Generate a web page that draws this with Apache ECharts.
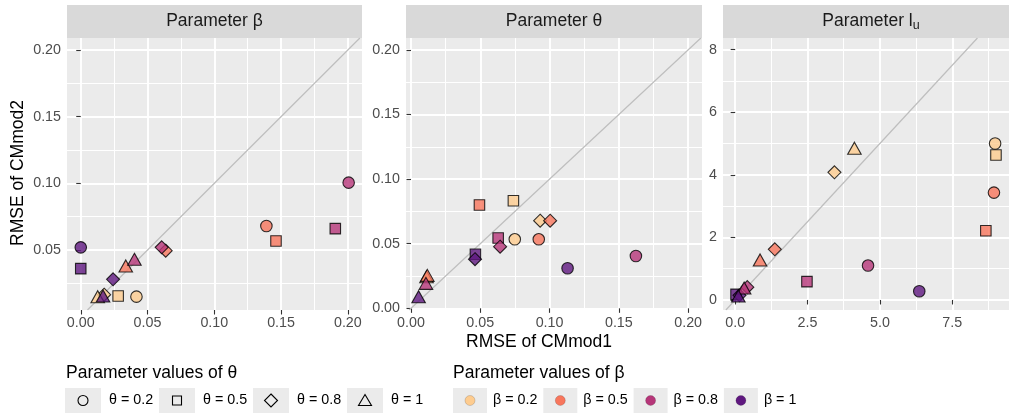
<!DOCTYPE html>
<html>
<head>
<meta charset="utf-8">
<script src="https://cdn.jsdelivr.net/npm/echarts@6/dist/echarts.min.js"></script>
<style>
  html, body { margin: 0; padding: 0; background: #ffffff; }
  #chart { width: 1009px; height: 414px; }
</style>
</head>
<body>
<div id="chart"></div>
<script>
// ---- data -------------------------------------------------------------
const thetaLevels = ['θ = 0.2', 'θ = 0.5', 'θ = 0.8', 'θ = 1'];
const betaLevels  = ['β = 0.2', 'β = 0.5', 'β = 0.8', 'β = 1'];

// Each array holds one θ level; entries run over β = 0.2, 0.5, 0.8, 1.
// Panel "Parameter β"
const betaPanelX = [
  [0.0417, 0.1390, 0.2006, 0.0000],
  [0.0280, 0.1462, 0.1906, 0.0000],
  [0.0175, 0.0636, 0.0606, 0.0242],
  [0.0127, 0.0337, 0.0402, 0.0167]
];
const betaPanelY = [
  [0.0150, 0.0680, 0.1005, 0.0520],
  [0.0155, 0.0568, 0.0660, 0.0360],
  [0.0165, 0.0495, 0.0520, 0.0280],
  [0.0150, 0.0380, 0.0430, 0.0155]
];
// Panel "Parameter θ"
const thetaPanelX = [
  [0.0749, 0.0922, 0.1623, 0.1130],
  [0.0739, 0.0494, 0.0629, 0.0465],
  [0.0932, 0.1004, 0.0643, 0.0462],
  [0.0112, 0.0118, 0.0108, 0.0055]
];
const thetaPanelY = [
  [0.0534, 0.0534, 0.0405, 0.0310],
  [0.0833, 0.0800, 0.0544, 0.0418],
  [0.0678, 0.0678, 0.0477, 0.0380],
  [0.0245, 0.0255, 0.0193, 0.0090]
];
// Panel "Parameter l_u"
const luPanelX = [
  [8.98, 8.94, 4.59, 6.36],
  [9.01, 8.66, 2.48, 0.03],
  [3.43, 1.37, 0.42, 0.15],
  [4.12, 0.86, 0.31, 0.11]
];
const luPanelY = [
  [5.00, 3.43, 1.10, 0.28],
  [4.63, 2.21, 0.585, 0.18],
  [4.08, 1.62, 0.41, 0.15],
  [4.85, 1.28, 0.38, 0.13]
];

// axis tick labels
const smallTicks = [0.00, 0.05, 0.10, 0.15, 0.20];
const smallMinor = [0.025, 0.075, 0.125, 0.175];
const luXTicks = [0.0, 2.5, 5.0, 7.5];
const luXMinor = [1.25, 3.75, 6.25, 8.75];
const luYTicks = [0, 2, 4, 6, 8];
const luYMinor = [1, 3, 5, 7];

// ---- styling ----------------------------------------------------------
const FONT = '"Liberation Sans", Arial, Helvetica, sans-serif';
const betaColors = ['#FECC8F', '#F8765C', '#B63679', '#5F187F'];
const thetaSymbols = ['circle', 'rect', 'diamond', 'triangle'];
const thetaSymbolSizes = [11.5, 10.5, 13, [13.5, 12]];

const panels = [
  { title: 'Parameter β', xs: betaPanelX, ys: betaPanelY,
    left: 67, width: 295, xMin: -0.0103, xMax: 0.2106, yMin: 0.0050, yMax: 0.2090,
    xTicks: smallTicks, xMinor: smallMinor, yTicks: smallTicks, yMinor: smallMinor,
    xFmt: v => v.toFixed(2), yFmt: v => v.toFixed(2) },
  { title: 'Parameter θ', xs: thetaPanelX, ys: thetaPanelY,
    left: 406, width: 296, xMin: -0.0036, xMax: 0.2100, yMin: -0.0013, yMax: 0.2092,
    xTicks: smallTicks, xMinor: smallMinor, yTicks: smallTicks, yMinor: smallMinor,
    xFmt: v => v.toFixed(2), yFmt: v => v.toFixed(2) },
  { title: null, xs: luPanelX, ys: luPanelY,
    left: 723, width: 296, xMin: -0.42, xMax: 9.46, yMin: -0.32, yMax: 8.37,
    xTicks: luXTicks, xMinor: luXMinor, yTicks: luYTicks, yMinor: luYMinor,
    xFmt: v => v.toFixed(1), yFmt: v => String(Math.round(v)) }
];
const PLOT_TOP = 38, PLOT_H = 272, STRIP_TOP = 5, STRIP_H = 33;

const grids = [], xAxes = [], yAxes = [], series = [], graphics = [];

panels.forEach((p, gi) => {
  grids.push({ left: p.left, top: PLOT_TOP, width: p.width, height: PLOT_H,
    show: true, backgroundColor: '#EBEBEB', borderWidth: 0, containLabel: false });

  const mainAxis = (ticks, fmt) => ({
    gridIndex: gi, type: 'value', axisLine: { show: false },
    axisTick: { show: true, length: 4.5, customValues: ticks,
      lineStyle: { color: '#333333', width: 1.1 } },
    axisLabel: { show: true, customValues: ticks, formatter: fmt, color: '#4D4D4D',
      fontSize: 14.3, fontFamily: FONT, margin: 6, showMinLabel: true, showMaxLabel: true },
    splitLine: { show: true, lineStyle: { color: '#FFFFFF', width: 1.9 } },
    z: 1
  });
  const minorAxis = (ticks) => ({
    gridIndex: gi, type: 'value', axisLine: { show: false },
    axisTick: { show: false, customValues: ticks },
    axisLabel: { show: false, customValues: ticks },
    splitLine: { show: true, lineStyle: { color: '#FFFFFF', width: 1 } },
    z: 0
  });

  const xMain = Object.assign(mainAxis(p.xTicks, p.xFmt), { min: p.xMin, max: p.xMax, position: 'bottom' });
  const xMin2 = Object.assign(minorAxis(p.xMinor), { min: p.xMin, max: p.xMax, position: 'bottom' });
  const yMain = Object.assign(mainAxis(p.yTicks, p.yFmt), { min: p.yMin, max: p.yMax, position: 'left' });
  const yMin2 = Object.assign(minorAxis(p.yMinor), { min: p.yMin, max: p.yMax, position: 'left' });
  const xi = xAxes.length, yi = yAxes.length;
  xAxes.push(xMain, xMin2);
  yAxes.push(yMain, yMin2);

  // reference line y = x
  const lo = Math.max(p.xMin, p.yMin), hi = Math.min(p.xMax, p.yMax);
  series.push({
    type: 'line', xAxisIndex: xi, yAxisIndex: yi, data: [[lo, lo], [hi, hi]],
    symbol: 'none', silent: true, clip: true, z: 2,
    lineStyle: { color: '#BEBEBE', width: 1.2 }
  });

  // points, one series per θ level, coloured by β
  thetaLevels.forEach((t, ti) => {
    series.push({
      type: 'scatter', name: t, xAxisIndex: xi, yAxisIndex: yi, z: 3 + ti, clip: false,
      symbol: thetaSymbols[ti], symbolSize: thetaSymbolSizes[ti],
      data: p.xs[ti].map((x, bi) => [x, p.ys[ti][bi], bi]),
      itemStyle: { color: d => betaColors[d.data[2]], borderColor: '#000000', borderWidth: 1.1 }
    });
  });

  // facet strip
  graphics.push({ type: 'rect', shape: { x: p.left, y: STRIP_TOP, width: p.width, height: STRIP_H },
    style: { fill: '#D9D9D9' }, silent: true });
  const cx = p.left + p.width / 2, cy = STRIP_TOP + STRIP_H / 2;
  if (p.title) {
    graphics.push({ type: 'text', x: cx, y: cy, silent: true,
      style: { text: p.title, fill: '#1A1A1A', font: '17.5px ' + FONT, align: 'center', verticalAlign: 'middle' } });
  } else {
    graphics.push({ type: 'text', x: cx, y: cy, silent: true,
      style: { text: '{a|Parameter l}{b|u}', align: 'center', verticalAlign: 'middle',
        rich: { a: { fill: '#1A1A1A', fontSize: 17.5, fontFamily: FONT, lineHeight: 20 },
                b: { fill: '#1A1A1A', fontSize: 12.5, fontFamily: FONT, lineHeight: 20, padding: [9, 0, 0, 0] } } } });
  }
});

// axis titles
graphics.push({ type: 'text', x: 539, y: 342, silent: true,
  style: { text: 'RMSE of CMmod1', fill: '#000000', font: '17.5px ' + FONT, align: 'center', verticalAlign: 'middle' } });
graphics.push({ type: 'text', x: 18, y: 173, rotation: Math.PI / 2, silent: true,
  style: { text: 'RMSE of CMmod2', fill: '#000000', font: '17.5px ' + FONT, align: 'center', verticalAlign: 'middle' } });

// legend: θ shapes
const LEG_TITLE_Y = 373, KEY_TOP = 388, KEY_H = 25;
graphics.push({ type: 'text', x: 66, y: LEG_TITLE_Y, silent: true,
  style: { text: 'Parameter values of θ', fill: '#000000', font: '17.5px ' + FONT, align: 'left', verticalAlign: 'middle' } });
thetaLevels.forEach((t, i) => {
  const bx = 65 + i * 94, kw = 36, mx = bx + kw / 2, my = KEY_TOP + KEY_H / 2;
  graphics.push({ type: 'rect', shape: { x: bx, y: KEY_TOP, width: kw, height: KEY_H }, style: { fill: '#EBEBEB' }, silent: true });
  const st = { fill: 'none', stroke: '#000000', lineWidth: 1.1 };
  if (i === 0) graphics.push({ type: 'circle', shape: { cx: mx, cy: my, r: 5 }, style: st, silent: true });
  if (i === 1) graphics.push({ type: 'rect', shape: { x: mx - 4.5, y: my - 4.5, width: 9, height: 9 }, style: st, silent: true });
  if (i === 2) graphics.push({ type: 'polygon', shape: { points: [[mx, my - 6.5], [mx + 6.5, my], [mx, my + 6.5], [mx - 6.5, my]] }, style: st, silent: true });
  if (i === 3) graphics.push({ type: 'polygon', shape: { points: [[mx, my - 6], [mx + 6.5, my + 5], [mx - 6.5, my + 5]] }, style: st, silent: true });
  graphics.push({ type: 'text', x: bx + kw + 8, y: my, silent: true,
    style: { text: t, fill: '#000000', font: '14.3px ' + FONT, align: 'left', verticalAlign: 'middle' } });
});

// legend: β colours
graphics.push({ type: 'text', x: 453, y: LEG_TITLE_Y, silent: true,
  style: { text: 'Parameter values of β', fill: '#000000', font: '17.5px ' + FONT, align: 'left', verticalAlign: 'middle' } });
betaLevels.forEach((b, i) => {
  const bx = 453 + i * 90.3, kw = 34, mx = bx + kw / 2, my = KEY_TOP + KEY_H / 2;
  graphics.push({ type: 'rect', shape: { x: bx, y: KEY_TOP, width: kw, height: KEY_H }, style: { fill: '#EBEBEB' }, silent: true });
  graphics.push({ type: 'circle', shape: { cx: mx, cy: my, r: 5 },
    style: { fill: betaColors[i], stroke: 'rgba(0,0,0,0.25)', lineWidth: 0.6 }, silent: true });
  graphics.push({ type: 'text', x: bx + kw + 6, y: my, silent: true,
    style: { text: b, fill: '#000000', font: '14.3px ' + FONT, align: 'left', verticalAlign: 'middle' } });
});

const chart = echarts.init(document.getElementById('chart'), null, { renderer: 'canvas' });
chart.setOption({
  animation: false,
  backgroundColor: '#FFFFFF',
  textStyle: { fontFamily: FONT },
  grid: grids,
  xAxis: xAxes,
  yAxis: yAxes,
  series: series,
  graphic: graphics
});
</script>
</body>
</html>
